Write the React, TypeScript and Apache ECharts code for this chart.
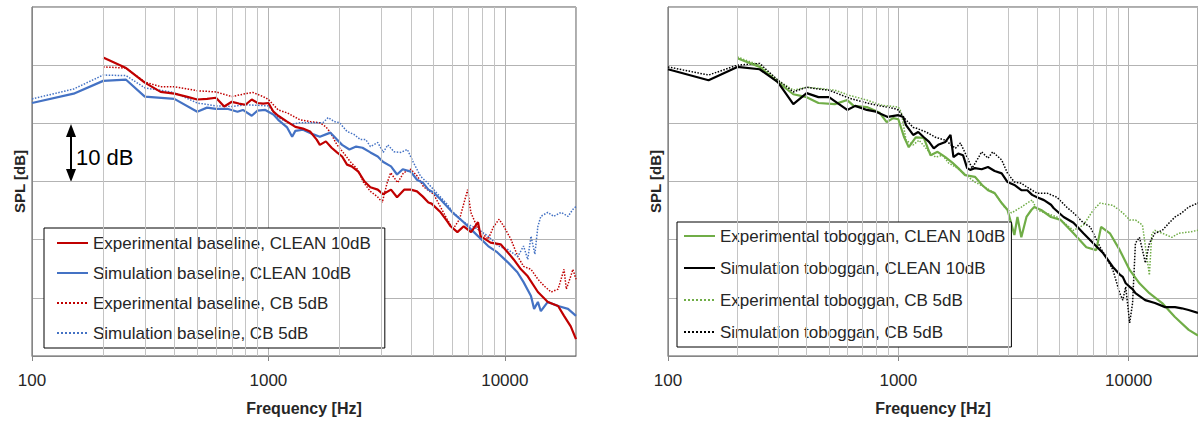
import React, { useEffect, useRef } from "react";
import * as echarts from "echarts";

const FONT = "'Liberation Sans', Arial, sans-serif";

const X_MIN = 100;
const X_MAX = 20000;
const Y_MIN = 0;
const Y_MAX = 60;
const Y_STEP = 10;
const MINOR_FREQS = [200, 300, 400, 500, 600, 700, 800, 900, 2000, 3000, 4000, 5000, 6000, 7000, 8000, 9000];

const LEFT_NAMES = [
  "Experimental baseline, CLEAN 10dB",
  "Simulation baseline, CLEAN 10dB",
  "Experimental baseline, CB 5dB",
  "Simulation baseline, CB 5dB",
];
const RIGHT_NAMES = [
  "Experimental toboggan, CLEAN 10dB",
  "Simulation toboggan, CLEAN 10dB",
  "Experimental toboggan, CB 5dB",
  "Simulation toboggan, CB 5dB",
];

// [frequency Hz, SPL relative dB]
const expBaseClean = [
  [200, 51.3], [250, 49.5], [300, 47.0], [350, 45.4], [400, 45.1], [450, 44.6], [500, 44.1], [550, 44.2],
  [600, 44.4], [650, 42.9], [700, 43.7], [750, 43.4], [800, 43.2], [850, 44.1], [900, 43.5], [950, 43.4],
  [1000, 43.5], [1050, 42.0], [1100, 41.3], [1200, 40.3], [1300, 39.4], [1400, 39.1], [1500, 38.6],
  [1600, 37.2], [1650, 36.3], [1750, 36.9], [1850, 35.8], [1950, 35.0], [2050, 34.3], [2150, 32.9],
  [2250, 32.6], [2400, 31.7], [2550, 30.0], [2700, 29.0], [2900, 28.6], [3050, 27.8], [3300, 28.6],
  [3500, 27.3], [3750, 28.6], [4000, 28.6], [4250, 28.3], [4500, 27.4], [4750, 26.4], [4900, 26.2],
  [5350, 24.7], [5700, 23.2], [5900, 22.3], [6300, 21.3], [6700, 22.3], [7200, 21.3], [7700, 23.0],
  [7900, 20.6], [8700, 19.5], [9600, 19.2], [10300, 17.8], [10900, 16.6], [11700, 14.9], [12500, 13.7],
  [13800, 11.0], [15200, 9.3], [16800, 8.6], [17800, 6.9], [19000, 5.1], [20000, 2.9],
];
const simBaseClean = [
  [100, 43.5], [150, 45.1], [200, 47.3], [250, 47.5], [300, 44.6], [400, 44.2], [500, 42.0], [550, 42.7],
  [600, 42.5], [670, 42.5], [740, 42.0], [780, 42.3], [850, 41.3], [900, 42.2], [970, 42.3], [1000, 42.0],
  [1050, 41.5], [1100, 40.6], [1200, 39.3], [1260, 37.7], [1300, 38.7], [1400, 38.9], [1550, 38.1],
  [1650, 37.7], [1750, 38.1], [1830, 38.4], [1950, 37.2], [2050, 36.3], [2200, 35.5], [2350, 36.0],
  [2500, 35.8], [2700, 35.0], [2900, 34.3], [3050, 33.4], [3300, 32.6], [3500, 31.2], [3700, 32.1],
  [4000, 31.7], [4250, 30.3], [4500, 29.8], [4750, 28.6], [5000, 28.1], [5350, 26.9], [6000, 24.7],
  [6700, 23.0], [7400, 21.3], [8500, 18.9], [9300, 17.8], [10300, 16.1], [11300, 14.4], [12000, 12.7],
  [12900, 10.3], [13300, 8.1], [13800, 9.3], [14200, 7.7], [15200, 9.3], [16800, 8.6], [18500, 8.1],
  [20000, 6.9],
];
const expBaseCB = [
  [200, 49.7], [250, 49.5], [300, 47.1], [350, 46.3], [400, 46.3], [500, 45.6], [600, 45.4], [700, 44.6],
  [800, 45.1], [860, 45.3], [950, 44.6], [1000, 44.1], [1100, 42.3], [1200, 41.8], [1360, 40.6],
  [1500, 40.3], [1650, 40.1], [1750, 39.4], [1830, 38.4], [1950, 36.3], [2070, 35.0], [2220, 33.4],
  [2380, 32.1], [2530, 29.8], [2700, 28.3], [2890, 27.4], [3030, 26.4], [3180, 29.8], [3290, 31.5],
  [3520, 29.8], [3730, 31.5], [4000, 32.1], [4270, 30.9], [4530, 29.1], [5000, 27.8], [5700, 23.5],
  [6040, 21.8], [6430, 23.5], [6960, 28.6], [7180, 24.7], [7700, 21.8], [8500, 20.1], [8980, 22.3],
  [9460, 23.5], [9900, 22.3], [10600, 20.1], [11350, 17.1], [12000, 15.4], [12900, 14.9], [13800, 13.2],
  [14700, 12.0], [15700, 11.0], [16800, 11.5], [17800, 14.9], [18200, 11.5], [19000, 13.7], [19400, 14.9],
  [20000, 13.2],
];
const simBaseCB = [
  [100, 44.2], [150, 45.9], [200, 48.3], [250, 48.2], [300, 46.1], [400, 45.3], [500, 43.5], [600, 43.0],
  [700, 42.9], [800, 43.2], [1000, 43.0], [1100, 41.0], [1250, 39.8], [1350, 40.1], [1550, 40.1],
  [1700, 40.1], [1790, 41.0], [1900, 40.3], [2000, 40.1], [2150, 38.6], [2300, 38.1], [2450, 37.2],
  [2580, 37.2], [2700, 36.0], [2900, 36.7], [3060, 35.0], [3200, 36.3], [3400, 35.1], [3630, 35.0],
  [3870, 35.5], [4100, 33.3], [4400, 30.9], [4700, 29.8], [5000, 28.6], [5700, 26.1], [6040, 24.7],
  [6700, 23.0], [7700, 21.8], [8500, 20.6], [9400, 18.9], [10300, 18.3], [11350, 17.1], [12000, 18.9],
  [12500, 16.6], [12900, 20.6], [13400, 17.5], [13800, 22.3], [14200, 24.0], [15200, 24.7], [16100, 24.0],
  [17300, 24.7], [18500, 24.0], [19400, 25.2], [20000, 25.7],
];

const expTobClean = [
  [200, 51.2], [250, 49.7], [300, 47.1], [350, 45.0], [400, 44.5], [450, 43.5], [530, 43.3], [600, 44.0],
  [640, 43.0], [730, 42.8], [830, 41.8], [890, 40.2], [950, 40.9], [1000, 40.7], [1060, 37.6], [1110, 35.9],
  [1190, 37.6], [1290, 37.5], [1380, 34.5], [1480, 35.1], [1600, 34.2], [1720, 33.2], [1820, 32.3],
  [1950, 31.1], [2150, 30.8], [2310, 29.4], [2450, 28.5], [2620, 28.0], [2810, 26.3], [2980, 25.1],
  [3190, 20.8], [3290, 23.9], [3420, 20.4], [3600, 23.9], [3780, 25.1], [3890, 25.6], [4170, 25.1],
  [4600, 23.9], [5070, 23.4], [5760, 21.1], [6550, 18.7], [7230, 18.2], [7590, 22.2], [8290, 21.1],
  [9150, 18.2], [10100, 14.8], [11140, 12.5], [12300, 10.8], [13970, 9.1], [15880, 6.7], [18230, 4.5],
  [20000, 3.5],
];
const simTobClean = [
  [100, 49.3], [150, 47.4], [200, 49.7], [250, 49.3], [300, 47.1], [350, 43.3], [400, 45.2], [450, 44.5],
  [500, 44.5], [600, 42.3], [650, 43.0], [730, 42.3], [800, 42.0], [900, 41.1], [1000, 41.4], [1050, 41.1],
  [1080, 39.7], [1160, 38.0], [1220, 38.5], [1290, 37.6], [1360, 36.8], [1425, 35.7], [1490, 36.3],
  [1600, 36.8], [1685, 38.0], [1735, 34.2], [1820, 34.8], [1910, 34.5], [1990, 32.3], [2050, 32.0],
  [2150, 32.3], [2300, 32.1], [2450, 32.5], [2620, 31.8], [2810, 31.4], [2980, 29.9], [3190, 29.4],
  [3420, 28.5], [3630, 28.5], [3810, 27.7], [4000, 27.3], [4290, 26.8], [4600, 26.0], [4730, 25.4],
  [5220, 23.9], [5760, 22.9], [6360, 21.1], [7020, 19.4], [7740, 17.7], [8540, 15.3], [9150, 14.0],
  [9430, 13.6], [9710, 12.5], [10100, 11.9], [10400, 11.5], [10700, 10.8], [11800, 9.6], [13000, 9.1],
  [14400, 8.4], [15900, 8.4], [17000, 8.2], [18200, 7.9], [20000, 7.4],
];
const expTobCB = [
  [200, 51.4], [250, 50.0], [300, 47.4], [350, 45.7], [400, 46.2], [450, 46.0], [530, 45.7], [615, 44.8],
  [730, 44.0], [850, 43.1], [1000, 42.8], [1030, 41.9], [1080, 37.1], [1160, 36.3], [1230, 37.1],
  [1360, 35.1], [1450, 34.2], [1560, 34.5], [1650, 33.2], [1770, 32.5], [1900, 31.6], [2010, 30.8],
  [2150, 29.9], [2380, 29.0], [2620, 28.0], [2890, 25.6], [3100, 24.6], [3420, 25.6], [3630, 26.3],
  [3810, 26.8], [4000, 25.1], [4880, 23.9], [5760, 21.6], [6360, 22.5], [7020, 25.1], [7520, 26.3],
  [8540, 25.9], [9430, 24.6], [10100, 23.4], [10700, 23.4], [11480, 22.5], [12300, 13.9], [12600, 21.0],
  [13000, 21.6], [14000, 21.1], [15400, 20.4], [16500, 21.1], [18200, 21.3], [20000, 21.6],
];
const simTobCB = [
  [100, 49.7], [150, 48.3], [200, 50.0], [250, 50.3], [300, 47.4], [350, 45.4], [400, 46.2], [450, 45.9],
  [500, 45.7], [615, 44.3], [730, 43.5], [830, 43.0], [950, 42.6], [1000, 42.3], [1050, 41.1], [1160, 39.3],
  [1190, 39.2], [1320, 38.5], [1450, 37.6], [1600, 37.1], [1770, 35.7], [1860, 36.6], [1950, 34.9],
  [2090, 32.3], [2220, 34.0], [2300, 35.1], [2450, 34.0], [2570, 35.1], [2810, 33.7], [2980, 31.4],
  [3190, 29.9], [3420, 29.7], [3630, 29.0], [4000, 28.0], [4420, 28.0], [4880, 27.3], [5380, 25.6],
  [5760, 24.6], [6360, 22.9], [6810, 22.2], [7520, 18.7], [7980, 17.0], [8540, 14.8], [9150, 10.8],
  [9430, 9.6], [9710, 11.9], [10100, 5.7], [10400, 9.1], [10700, 19.4], [11140, 20.4], [11480, 18.2],
  [11820, 16.0], [12300, 19.4], [13000, 21.1], [14000, 21.6], [15000, 22.9], [15900, 23.9], [17000, 24.6],
  [18200, 25.6], [20000, 26.3],
];

const RED = "#c00000";
const BLUE = "#4472c4";
const GREEN = "#70ad47";
const BLACK = "#000000";

function xAxisFor(gridIndex: number) {
  return {
    type: "log",
    logBase: 10,
    gridIndex,
    min: X_MIN,
    max: X_MAX,
    name: "Frequency [Hz]",
    nameLocation: "middle",
    nameGap: 44,
    nameTextStyle: { fontFamily: FONT, fontSize: 16, fontWeight: "bold", color: "#262626" },
    axisLine: { show: true, lineStyle: { color: "#868686", width: 1 } },
    axisTick: { show: true, length: 5, lineStyle: { color: "#868686" } },
    axisLabel: {
      fontFamily: FONT,
      fontSize: 17,
      color: "#262626",
      margin: 16,
      showMaxLabel: false,
      formatter: (v: number) => String(Math.round(v)),
    },
    splitLine: { show: true, lineStyle: { color: "#b3b3b3", width: 1 } },
  };
}

function yAxisFor(gridIndex: number) {
  return {
    type: "value",
    gridIndex,
    min: Y_MIN,
    max: Y_MAX,
    interval: Y_STEP,
    name: "SPL [dB]",
    nameLocation: "middle",
    nameGap: 5,
    nameRotate: 90,
    nameTextStyle: { fontFamily: FONT, fontSize: 15, fontWeight: "bold", color: "#262626" },
    axisLine: { show: true, lineStyle: { color: "#868686", width: 1 } },
    axisTick: { show: false },
    axisLabel: { show: false },
    splitLine: { show: true, lineStyle: { color: "#b3b3b3", width: 1 } },
  };
}

function gridLines(idx: number) {
  return {
    type: "line",
    data: [],
    xAxisIndex: idx,
    yAxisIndex: idx,
    silent: true,
    z: 1,
    markLine: {
      silent: true,
      symbol: ["none", "none"],
      label: { show: false },
      emphasis: { disabled: true },
      lineStyle: { color: "#c4c4c4", width: 1, type: "solid" },
      data: MINOR_FREQS.map((f) => ({ xAxis: f })),
    },
  };
}

function lineSeries(name: string, data: number[][], color: string, dotted: boolean, idx: number) {
  return {
    type: "line",
    name,
    data,
    xAxisIndex: idx,
    yAxisIndex: idx,
    symbol: "none",
    showSymbol: false,
    silent: true,
    z: dotted ? 2 : 3,
    itemStyle: { color },
    lineStyle: { color, width: dotted ? 1.5 : 2.2, type: dotted ? "dotted" : "solid" },
    emphasis: { disabled: true },
  };
}

function legendFor(names: string[], left: number, top: number, padding: number[], itemGap: number) {
  return {
    show: true,
    data: names,
    orient: "vertical",
    left,
    top,
    backgroundColor: "#ffffff",
    borderColor: "#000000",
    borderWidth: 1,
    borderRadius: 0,
    padding,
    itemWidth: 31,
    itemHeight: 14,
    itemGap,
    selectedMode: false,
    itemStyle: { opacity: 0, borderWidth: 0 },
    textStyle: { fontFamily: FONT, fontSize: 17, color: "#262626", lineHeight: 20 },
  };
}

const option = {
  animation: false,
  backgroundColor: "#ffffff",
  textStyle: { fontFamily: FONT },
  grid: [
    { left: 32, top: 7, width: 544, height: 350, show: true, borderColor: "#595959", borderWidth: 1 },
    { left: 668, top: 7, width: 537, height: 349, show: true, borderColor: "#595959", borderWidth: 1 },
  ],
  xAxis: [xAxisFor(0), xAxisFor(1)],
  yAxis: [yAxisFor(0), yAxisFor(1)],
  legend: [
    legendFor(LEFT_NAMES, 44, 228, [5, 14, 5, 12], 10),
    legendFor(RIGHT_NAMES, 677, 222, [4, 6, 5, 6], 12),
  ],
  series: [
    gridLines(0),
    lineSeries(LEFT_NAMES[2], expBaseCB, RED, true, 0),
    lineSeries(LEFT_NAMES[3], simBaseCB, BLUE, true, 0),
    lineSeries(LEFT_NAMES[1], simBaseClean, BLUE, false, 0),
    lineSeries(LEFT_NAMES[0], expBaseClean, RED, false, 0),
    gridLines(1),
    lineSeries(RIGHT_NAMES[2], expTobCB, GREEN, true, 1),
    lineSeries(RIGHT_NAMES[3], simTobCB, BLACK, true, 1),
    lineSeries(RIGHT_NAMES[0], expTobClean, GREEN, false, 1),
    lineSeries(RIGHT_NAMES[1], simTobClean, BLACK, false, 1),
  ],
  graphic: [
    { type: "line", shape: { x1: 71, y1: 134, x2: 71, y2: 172 }, style: { stroke: "#000", lineWidth: 2 } },
    { type: "polygon", shape: { points: [[71, 124], [66, 137], [76, 137]] }, style: { fill: "#000" } },
    { type: "polygon", shape: { points: [[71, 182], [66, 169], [76, 169]] }, style: { fill: "#000" } },
    {
      type: "text",
      x: 76,
      y: 157,
      style: { text: "10 dB", fontFamily: FONT, fontSize: 22, fill: "#000", verticalAlign: "middle" },
    },
  ],
};

export default function App() {
  const ref = useRef<HTMLDivElement>(null);
  useEffect(() => {
    document.body.style.margin = "0";
    const chart = echarts.init(ref.current as HTMLDivElement, null, { renderer: "svg" });
    chart.setOption(option as any);
    return () => chart.dispose();
  }, []);
  return <div ref={ref} style={{ width: 1198, height: 421, overflow: "hidden" }} />;
}
